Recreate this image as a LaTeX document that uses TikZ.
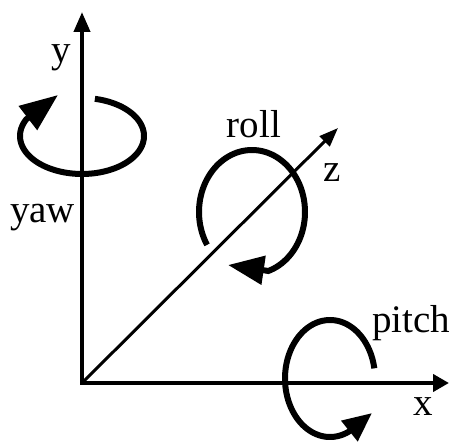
\documentclass[tikz,border=0pt]{standalone}
\usepackage{fontspec}
\setmainfont{Liberation Serif}
\usetikzlibrary{arrows.meta}
\begin{document}
\begin{tikzpicture}[x=1pt,y=-1pt,
  axisline/.style={line width=4pt,line cap=butt},
  lbl/.style={inner sep=0pt,anchor=base,font=\fontsize{39}{47}\selectfont},
  rotline/.style={line width=6pt}]
\useasboundingbox (0,0) rectangle (450,446);
\coordinate (O) at (82,383);
\coordinate (Ytip) at (82,12);
\coordinate (Xtip) at (449,383);
\coordinate (Ztip) at (338,128);
\coordinate (yawtip) at (58,95);
\coordinate (rolltip) at (228,265);
\coordinate (pitchtip) at (372,413);
% rotation curves
\draw[rotline,-{Triangle[length=38pt,width=29pt]}]
  plot[domain=-78:206,samples=90,smooth] ({82+62*cos(\x)},{136+38*sin(\x)}) -- (yawtip);
\draw[rotline,-{Triangle[length=36pt,width=28pt]}]
  plot[domain=148:432,samples=90,smooth] ({252+53*cos(\x)},{212+62*sin(\x)}) -- (rolltip);
\draw[rotline,{Triangle[length=29pt,width=25pt]}-]
  (pitchtip) -- plot[domain=-294:-10,samples=90,smooth] ({330+45*cos(\x)},{378.5+58.5*sin(\x)});
% axes
\draw[axisline,-{Triangle[length=20pt,width=16pt]}] (O) -- (Ytip);
\draw[axisline,-{Triangle[length=16pt,width=17pt]}] (O) -- (Xtip);
\draw[line width=3pt,-{Triangle[length=19pt,width=14pt]}] (O) -- (Ztip);
\fill (80,381) rectangle (84,385);
% labels
\node[lbl] (ly) at (61,63) {y};
\node[lbl] (lyaw) at (42.5,223) {yaw};
\node[lbl] (lz) at (332,182) {z};
\node[lbl] (lroll) at (254,138) {roll};
\node[lbl] (lpitch) at (411,333) {pitch};
\node[lbl] (lx) at (423,415) {x};
\end{tikzpicture}
\end{document}
